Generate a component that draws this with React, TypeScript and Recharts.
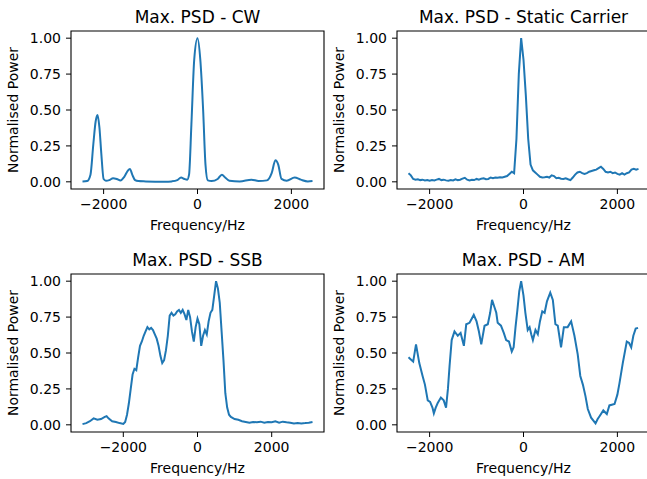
import { Line, LineChart, ReferenceArea, XAxis, YAxis } from "recharts";

// ---- data ----
const cwFreq = [-2450, -2350, -2280, -2220, -2170, -2130, -2090, -2050, -2000, -1950, -1880, -1800, -1720, -1640, -1560, -1490, -1440, -1390, -1330, -1260, -1100, -900, -700, -550, -430, -350, -280, -220, -180, -130, -70, 0, 60, 120, 170, 220, 300, 430, 520, 590, 680, 900, 1150, 1300, 1480, 1580, 1660, 1720, 1790, 1900, 2070, 2200, 2350, 2450];
const cwPower = [0.002, 0.006, 0.05, 0.26, 0.42, 0.465, 0.38, 0.2, 0.02, 0.008, 0.012, 0.025, 0.02, 0.01, 0.035, 0.075, 0.09, 0.05, 0.012, 0.005, 0.003, 0.001, 0.0, 0.003, 0.012, 0.03, 0.02, 0.015, 0.05, 0.4, 0.85, 1.0, 0.85, 0.5, 0.12, 0.01, 0.005, 0.02, 0.05, 0.03, 0.008, 0.003, 0.015, 0.006, 0.01, 0.06, 0.15, 0.12, 0.02, 0.008, 0.03, 0.015, 0.003, 0.005];

const scFreq = [-2450, -2400, -2350, -2300, -2250, -2200, -2150, -2100, -2050, -2000, -1950, -1900, -1850, -1800, -1750, -1700, -1650, -1600, -1550, -1500, -1450, -1400, -1350, -1300, -1250, -1200, -1150, -1100, -1050, -1000, -950, -900, -850, -800, -750, -700, -650, -600, -550, -500, -450, -400, -350, -300, -250, -200, -150, -100, -50, 0, 50, 100, 150, 200, 250, 300, 350, 400, 450, 500, 550, 600, 650, 700, 750, 800, 850, 900, 950, 1000, 1050, 1100, 1150, 1200, 1250, 1300, 1350, 1400, 1450, 1500, 1550, 1600, 1650, 1700, 1750, 1800, 1850, 1900, 1950, 2000, 2050, 2100, 2150, 2200, 2250, 2300, 2350, 2400, 2450];
const scPower = [0.06, 0.045, 0.02, 0.015, 0.018, 0.012, 0.015, 0.01, 0.012, 0.008, 0.012, 0.01, 0.015, 0.02, 0.012, 0.015, 0.01, 0.008, 0.012, 0.01, 0.018, 0.012, 0.015, 0.022, 0.028, 0.015, 0.01, 0.014, 0.012, 0.02, 0.015, 0.022, 0.025, 0.018, 0.02, 0.03, 0.025, 0.03, 0.028, 0.032, 0.03, 0.035, 0.04, 0.055, 0.07, 0.06, 0.3, 0.75, 1.0, 0.85, 0.6, 0.3, 0.12, 0.08, 0.065, 0.05, 0.035, 0.03, 0.032, 0.035, 0.03, 0.045, 0.04, 0.025, 0.028, 0.022, 0.02, 0.025, 0.018, 0.012, 0.03, 0.05, 0.065, 0.07, 0.06, 0.055, 0.06, 0.07, 0.075, 0.08, 0.085, 0.095, 0.105, 0.09, 0.07, 0.065, 0.07, 0.06, 0.065, 0.055, 0.05, 0.06, 0.05, 0.06, 0.065, 0.085, 0.09, 0.085, 0.09];

const ssbFreq = [-3100, -3000, -2900, -2800, -2700, -2600, -2500, -2450, -2400, -2300, -2200, -2100, -2000, -1950, -1900, -1850, -1800, -1750, -1700, -1650, -1600, -1550, -1500, -1450, -1400, -1350, -1300, -1250, -1200, -1150, -1100, -1050, -1000, -950, -900, -850, -800, -750, -700, -650, -600, -550, -500, -450, -400, -350, -300, -250, -200, -150, -100, -50, 0, 50, 100, 150, 200, 250, 300, 350, 400, 450, 500, 550, 600, 650, 700, 750, 800, 850, 900, 1000, 1100, 1200, 1300, 1400, 1500, 1600, 1700, 1800, 1900, 2000, 2100, 2200, 2300, 2400, 2500, 2600, 2700, 2800, 2900, 3000, 3100];
const ssbPower = [0.005, 0.012, 0.025, 0.045, 0.035, 0.04, 0.055, 0.06, 0.045, 0.025, 0.02, 0.012, 0.006, 0.02, 0.07, 0.15, 0.25, 0.35, 0.39, 0.38, 0.47, 0.55, 0.58, 0.62, 0.65, 0.68, 0.665, 0.675, 0.66, 0.63, 0.6, 0.55, 0.48, 0.43, 0.45, 0.52, 0.62, 0.76, 0.78, 0.76, 0.77, 0.79, 0.8, 0.78, 0.8, 0.77, 0.73, 0.8, 0.75, 0.65, 0.58, 0.68, 0.74, 0.7, 0.55, 0.62, 0.66, 0.63, 0.72, 0.78, 0.8, 0.9, 1.0, 0.95, 0.85, 0.65, 0.45, 0.22, 0.12, 0.07, 0.055, 0.04, 0.035, 0.025, 0.02, 0.015, 0.02, 0.018, 0.022, 0.015, 0.02, 0.018, 0.025, 0.015, 0.022, 0.018, 0.015, 0.01, 0.012, 0.01, 0.012, 0.015, 0.02];

const amFreq = [-2450, -2400, -2350, -2290, -2220, -2150, -2100, -2040, -1990, -1940, -1910, -1870, -1830, -1760, -1700, -1650, -1610, -1575, -1530, -1470, -1400, -1340, -1270, -1220, -1150, -1100, -1060, -1000, -950, -900, -830, -760, -710, -670, -620, -580, -550, -480, -420, -370, -310, -250, -210, -170, -130, -90, -50, 0, 40, 90, 130, 165, 200, 255, 305, 350, 400, 450, 500, 570, 625, 680, 730, 800, 860, 940, 1015, 1085, 1155, 1210, 1265, 1320, 1370, 1440, 1535, 1580, 1620, 1700, 1775, 1830, 1940, 2000, 2045, 2115, 2200, 2250, 2295, 2340, 2390, 2440];
const amPower = [0.47, 0.455, 0.44, 0.56, 0.43, 0.34, 0.28, 0.17, 0.16, 0.12, 0.08, 0.12, 0.15, 0.19, 0.17, 0.12, 0.25, 0.41, 0.59, 0.65, 0.62, 0.64, 0.55, 0.7, 0.71, 0.74, 0.765, 0.72, 0.65, 0.56, 0.69, 0.7, 0.78, 0.87, 0.82, 0.78, 0.71, 0.69, 0.64, 0.59, 0.58, 0.51, 0.54, 0.68, 0.8, 0.93, 1.0, 0.9, 0.78, 0.66, 0.68, 0.63, 0.59, 0.66, 0.63, 0.72, 0.79, 0.78, 0.86, 0.92, 0.87, 0.7, 0.69, 0.54, 0.68, 0.68, 0.72, 0.62, 0.49, 0.34, 0.28, 0.2, 0.11, 0.05, 0.01, 0.04, 0.06, 0.1, 0.075, 0.135, 0.145, 0.21, 0.29, 0.43, 0.58, 0.57, 0.54, 0.62, 0.67, 0.675];

const xTicks = [-2000, 0, 2000];
const yTicks = [0, 0.25, 0.5, 0.75, 1];

const rows = (f: number[], p: number[]) => f.map((v, i) => ({ f: v, p: p[i] }));

const FONT = "DejaVu Sans";
const BLUE = "#1f77b4";

const panels = [
	{ title: "Max. PSD - CW", data: rows(cwFreq, cwPower), xDom: [-2695, 2695], x: 71, y: 31, smooth: true },
	{ title: "Max. PSD - Static Carrier", data: rows(scFreq, scPower), xDom: [-2695, 2695], x: 397, y: 31, smooth: false },
	{ title: "Max. PSD - SSB", data: rows(ssbFreq, ssbPower), xDom: [-3410, 3410], x: 71, y: 274, smooth: false },
	{ title: "Max. PSD - AM", data: rows(amFreq, amPower), xDom: [-2695, 2695], x: 397, y: 274, smooth: false },
];

const PW = 253;
const PH = 158;

const fmtX = (v: number) => (v < 0 ? "\u2212" + Math.abs(v) : String(v));
const fmtY = (v: number) => v.toFixed(2);

function Panel({ p }: { p: (typeof panels)[number] }) {
	return (
		<div style={{ position: "absolute", left: p.x - 60, top: p.y - 10 }}>
			<LineChart width={PW + 70} height={PH + 50} data={p.data} margin={{ top: 10, right: 10, bottom: 0, left: 0 }}>
				<XAxis
					dataKey="f"
					type="number"
					domain={p.xDom}
					allowDataOverflow
					ticks={xTicks}
					interval={0}
					tickFormatter={fmtX}
					height={40}
					tickSize={5}
					tickMargin={5}
					axisLine={false}
					tickLine={{ stroke: "#000" }}
					tick={{ fill: "#000", fontSize: 14, fontFamily: FONT }}
				/>
				<YAxis
					type="number"
					domain={[-0.05, 1.05]}
					allowDataOverflow
					ticks={yTicks}
					interval={0}
					tickFormatter={fmtY}
					width={60}
					tickSize={5}
					tickMargin={5}
					axisLine={false}
					tickLine={{ stroke: "#000" }}
					tick={{ fill: "#000", fontSize: 14, fontFamily: FONT }}
				/>
				<Line type={p.smooth ? "monotone" : "linear"} dataKey="p" stroke={BLUE} strokeWidth={2} dot={false} isAnimationActive={false} />
				<ReferenceArea x1={p.xDom[0]} x2={p.xDom[1]} y1={-0.05} y2={1.05} fill="none" stroke="#000" strokeWidth={1.1} ifOverflow="extendDomain" />
			</LineChart>
		</div>
	);
}

export default function App() {
	return (
		<div style={{ position: "absolute", left: 0, top: 0, width: 647, height: 479, overflow: "hidden", background: "#fff" }}>
			{panels.map((p) => (
				<Panel key={p.title} p={p} />
			))}
			<svg width={647} height={479} style={{ position: "absolute", left: 0, top: 0, pointerEvents: "none" }} fontFamily={FONT} fill="#000">
				{panels.map((p) => {
					const cx = p.x + PW / 2;
					const cy = p.y + PH / 2;
					return (
						<g key={p.title}>
							<text x={cx} y={p.y - 8} fontSize={17} textAnchor="middle">
								{p.title}
							</text>
							<text x={cx} y={p.y + PH + 41} fontSize={14} textAnchor="middle">
								Frequency/Hz
							</text>
							<text x={p.x - 53} y={cy} fontSize={14} textAnchor="middle" transform={`rotate(-90, ${p.x - 53}, ${cy})`}>
								Normalised Power
							</text>
						</g>
					);
				})}
			</svg>
		</div>
	);
}
